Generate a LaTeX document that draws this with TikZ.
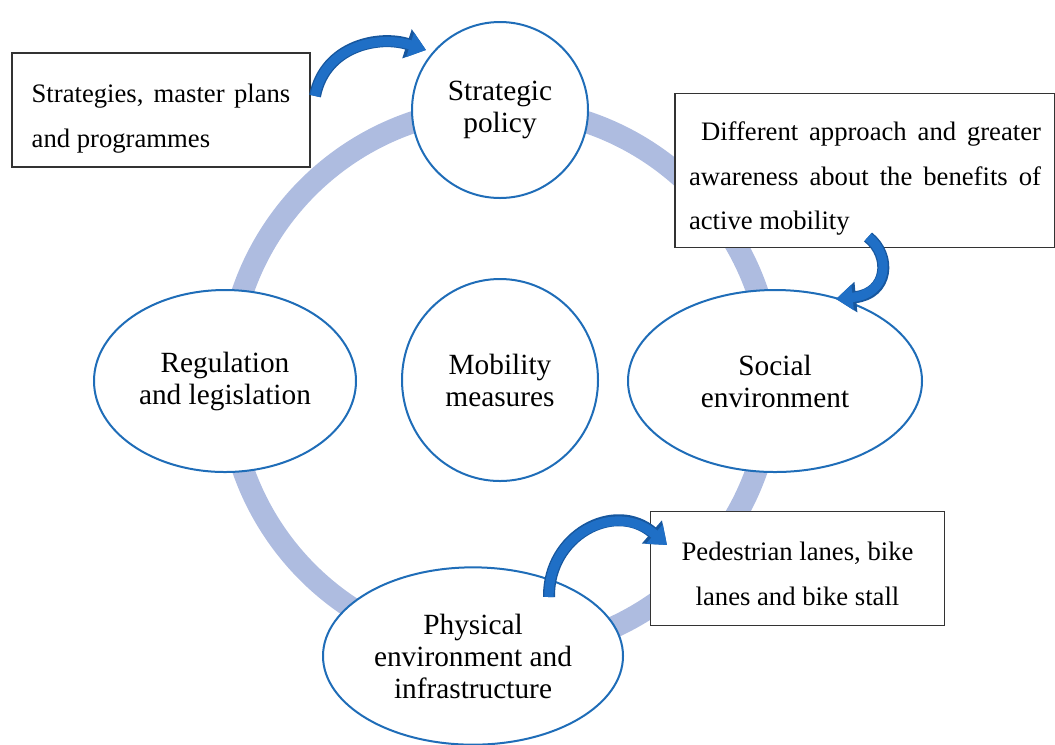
\documentclass[tikz,border=0pt]{standalone}
\usepackage{fontspec}
\setmainfont{Liberation Serif}
\usetikzlibrary{backgrounds,arrows.meta,shapes.geometric}

\definecolor{ringblue}{HTML}{AEBCE0}
\definecolor{lineblue}{HTML}{1F6DB8}
\definecolor{swoopfill}{HTML}{1F6FC6}
\definecolor{swoopedge}{HTML}{17579E}

\newcommand{\topstrut}{\rule{0pt}{26.5pt}}

\tikzset{
  ring/.style={draw=ringblue, line width=16.5pt},
  bubble/.style={ellipse, draw=lineblue, line width=1.5pt, fill=white, align=center,
    inner sep=0pt, font=\fontsize{22}{24}\selectfont},
  note/.style={rectangle, draw=black!80, line width=0.8pt, fill=white, inner sep=0pt,
    font=\fontsize{20}{33.5}\selectfont},
  swoop edge/.style={draw=swoopedge, line width=9pt, -{Triangle[width=22pt,length=15pt]}},
  swoop fill/.style={draw=swoopfill, line width=7pt, -{Triangle[width=18.5pt,length=12.5pt]}},
}

\begin{document}
\begin{tikzpicture}[x=0.75pt,y=-0.75pt]
\useasboundingbox (0,0) rectangle (1055,744);

\node[bubble, circle, minimum size=132pt] (policy) at (500,110) {Strategic\\policy};
\node[bubble, minimum width=147pt, minimum height=151.5pt] (measures) at (500,380) {Mobility\\measures};
\node[bubble, minimum width=196.5pt, minimum height=136.5pt] (regulation) at (225,381) {Regulation\\and legislation};
\node[bubble, minimum width=220.5pt, minimum height=136.5pt] (social) at (775,381) {Social\\environment};
\node[bubble, minimum width=225pt, minimum height=133pt] (physical) at (473,656) {Physical\\environment and\\infrastructure};

\begin{pgfonlayer}{background}
\draw[ring] (measures.center) circle [radius=204pt];
\end{pgfonlayer}

\node[note, minimum width=223.5pt, minimum height=85.5pt, text width=194pt, align=justify] (plans) at (161,110)
  {\topstrut Strategies, master plans\linebreak and programmes};
\node[note, minimum width=285pt, minimum height=116pt, text width=264pt, align=justify] (awareness) at (865,170.5)
  {\topstrut\hspace*{9pt}Different approach and greater\linebreak awareness about the benefits of\linebreak active mobility};
\node[note, minimum width=221pt, minimum height=86pt, align=center] (lanes) at (797.5,568.5)
  {\rule{0pt}{21.5pt}Pedestrian lanes, bike\\lanes and bike stall};

\coordinate (plans tail) at (315,96);
\coordinate (policy tip) at (426,50);
\coordinate (awareness tail) at (868,237);
\coordinate (social tip) at (836,299);
\coordinate (physical tail) at (549,597);
\coordinate (lanes tip) at (667,545);

\foreach \s in {swoop edge, swoop fill} {
  \draw[\s] (plans tail) .. controls (325,45) and (380,35) .. (policy tip);
  \draw[\s] (awareness tail) .. controls (892,256) and (888,294) .. (social tip);
  \draw[\s] (physical tail) .. controls (548,535) and (615,500) .. (lanes tip);
}
\end{tikzpicture}
\end{document}
